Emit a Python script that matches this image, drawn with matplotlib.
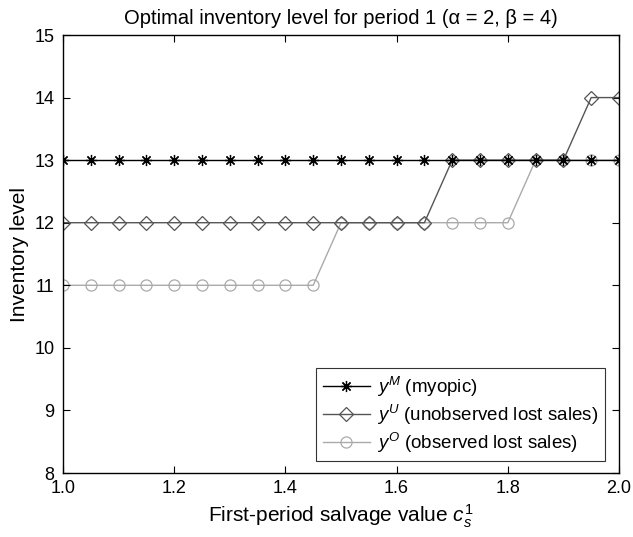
import matplotlib
matplotlib.use("Agg")
import matplotlib.pyplot as plt
import numpy as np

plt.rcParams['font.family'] = ['Liberation Sans', 'DejaVu Sans']
plt.rcParams['mathtext.fontset'] = 'custom'
plt.rcParams['mathtext.it'] = 'Liberation Sans:italic'
plt.rcParams['mathtext.rm'] = 'Liberation Sans'

salvage = [1.00, 1.05, 1.10, 1.15, 1.20, 1.25, 1.30, 1.35, 1.40, 1.45, 1.50,
           1.55, 1.60, 1.65, 1.70, 1.75, 1.80, 1.85, 1.90, 1.95, 2.00]
y_myopic = [13] * 21
y_unobs = [12, 12, 12, 12, 12, 12, 12, 12, 12, 12, 12, 12, 12, 12,
           13, 13, 13, 13, 13, 14, 14]
y_obs = [11, 11, 11, 11, 11, 11, 11, 11, 11, 11, 12, 12, 12, 12,
         12, 12, 12, 13, 13, 13, 13]
x_ticks = [1.0, 1.2, 1.4, 1.6, 1.8, 2.0]
x_ticklabels = ['1.0', '1.2', '1.4', '1.6', '1.8', '2.0']
y_ticks = [8, 9, 10, 11, 12, 13, 14, 15]

W, H = 633, 537
fig = plt.figure(figsize=(W / 100, H / 100), dpi=100)
L, R, T, B = 63, 619, 35, 473
ax = fig.add_axes([L / W, (H - B) / H, (R - L) / W, (B - T) / H])

ax.plot(salvage, y_myopic, color='black', marker=(8, 2, 0), markersize=8, lw=1.0,
        markeredgewidth=0.9, label=r'$y^M$ (myopic)', zorder=3)
ax.plot(salvage, y_unobs, color='#555555', marker='D', markersize=7, lw=1.0,
        markerfacecolor='none', markeredgewidth=0.9,
        label=r'$y^U$ (unobserved lost sales)', zorder=2)
ax.plot(salvage, y_obs, color='#aaaaaa', marker='o', markersize=8, lw=1.0,
        markerfacecolor='none', markeredgewidth=0.9,
        label=r'$y^O$ (observed lost sales)', zorder=1)

ax.set_xlim(1.0, 2.0)
ax.set_ylim(8, 15)
ax.set_xticks(x_ticks)
ax.set_xticklabels(x_ticklabels)
ax.set_yticks(y_ticks)
ax.tick_params(direction='in', labelsize=13, length=5, top=True, right=True)
ax.tick_params(axis='x', pad=5)
ax.tick_params(axis='y', pad=6)
for s in ax.spines.values():
    s.set_linewidth(1.0)

ax.set_xlabel(r'First-period salvage value $c_s^1$', fontsize=15, labelpad=4)
ax.set_ylabel('Inventory level', fontsize=15, labelpad=4)
ax.set_title('Optimal inventory level for period 1 (α = 2, β = 4)', fontsize=14.5, pad=8)

leg = ax.legend(loc='lower right', fontsize=13.5, frameon=True, fancybox=False,
                edgecolor='black', handlelength=2.5, handletextpad=0.4,
                borderpad=0.35, labelspacing=0.2, borderaxespad=0,
                bbox_to_anchor=(0.975, 0.027))
leg.get_frame().set_linewidth(0.8)

fig.savefig('out.png', dpi=100)
